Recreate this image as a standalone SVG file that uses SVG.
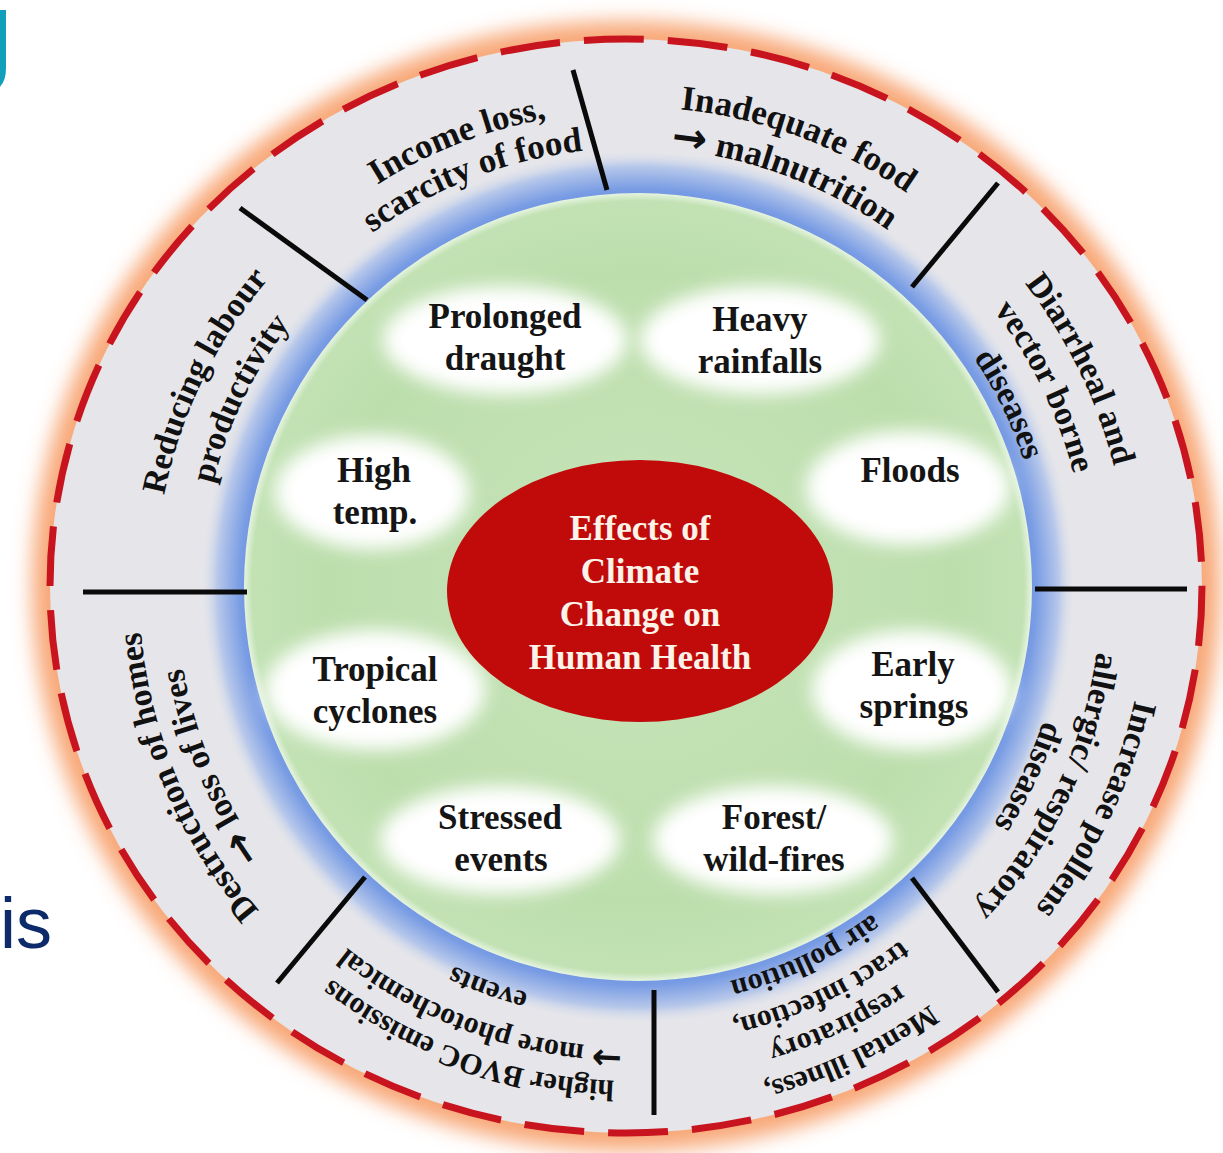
<svg xmlns="http://www.w3.org/2000/svg" width="1223" height="1153" viewBox="0 0 1223 1153">
<style>
.ot{font-family:"Liberation Serif","Times New Roman",serif;font-weight:bold;fill:#111;text-anchor:middle}
.ar{font-family:"DejaVu Sans",sans-serif;font-weight:bold;font-size:1.2em}
.it{font-family:"Liberation Serif","Times New Roman",serif;font-weight:bold;font-size:35px;fill:#151515;text-anchor:middle}
.ct{font-family:"Liberation Serif","Times New Roman",serif;font-weight:bold;font-size:35px;fill:#fbf2e8;text-anchor:middle}
.blob{fill:#ffffff;filter:url(#soft)}
.div{stroke:#0a0a0a;stroke-width:5;stroke-linecap:butt}
</style>
<defs>
<filter id="glow" x="-10%" y="-10%" width="120%" height="120%"><feGaussianBlur stdDeviation="10"/></filter>
<filter id="soft" x="-30%" y="-40%" width="160%" height="180%"><feGaussianBlur stdDeviation="9"/></filter>
<radialGradient id="blueRing" gradientUnits="userSpaceOnUse" cx="638" cy="587" r="438">
<stop offset="0.88" stop-color="#6a90e0"/>
<stop offset="0.91" stop-color="#7a9de4"/>
<stop offset="0.96" stop-color="#b6c7ea"/>
<stop offset="1" stop-color="#e6e6ea" stop-opacity="0"/>
</radialGradient>
<radialGradient id="greenFill" gradientUnits="userSpaceOnUse" cx="638" cy="587" r="394">
<stop offset="0" stop-color="#c8e5bb"/>
<stop offset="0.8" stop-color="#bcdeac"/>
<stop offset="0.98" stop-color="#c2e2b4"/>
<stop offset="1" stop-color="#e6f4e0"/>
</radialGradient>
<path id="r405" d="M -350.7 -202.5 A 405 405 0 0 1 350.7 -202.5"/>
<path id="r412" d="M -356.8 -206 A 412 412 0 0 1 356.8 -206"/>
<path id="r418" d="M -362 -209 A 418 418 0 0 1 362 -209"/>
<path id="r432" d="M -374.1 -216 A 432 432 0 0 1 374.1 -216"/>
<path id="r440" d="M -381 -220 A 440 440 0 0 1 381 -220"/>
<path id="r443" d="M -383.6 -221.5 A 443 443 0 0 1 383.6 -221.5"/>
<path id="r456" d="M -394.9 -228 A 456 456 0 0 1 394.9 -228"/>
<path id="r459" d="M -397.5 -229.5 A 459 459 0 0 1 397.5 -229.5"/>
<path id="r469" d="M -406.2 -234.5 A 469 469 0 0 1 406.2 -234.5"/>
<path id="r477" d="M -413.1 -238.5 A 477 477 0 0 1 413.1 -238.5"/>
<path id="r481" d="M -416.6 -240.5 A 481 481 0 0 1 416.6 -240.5"/>
<path id="r493" d="M -426.9 -246.5 A 493 493 0 0 1 426.9 -246.5"/>
<path id="r497" d="M -430.4 -248.5 A 497 497 0 0 1 430.4 -248.5"/>
<path id="r512" d="M -443.4 -256 A 512 512 0 0 1 443.4 -256"/>
<path id="r515" d="M -446 -257.5 A 515 515 0 0 1 446 -257.5"/>
</defs>
<rect width="1223" height="1153" fill="#ffffff"/>
<g id="slide-fragments">
<path d="M -20 10 H 6 V 68 Q 6 84 -4 90 H -20 Z" fill="#129fbb"/>
<text x="0" y="948" font-family="'Liberation Sans',Arial,sans-serif" font-size="72" fill="#0d2a6b">is</text>
</g>
<g id="rings">
<ellipse cx="626" cy="586" rx="594" ry="565" fill="#f8a878" filter="url(#glow)"/>
<ellipse cx="626" cy="586" rx="576" ry="547" fill="#e6e6ea"/>
<ellipse cx="626" cy="586" rx="576" ry="547" fill="none" stroke="#c8141e" stroke-width="7" stroke-dasharray="60 24"/>
<circle cx="638" cy="587" r="438" fill="url(#blueRing)"/>
<circle cx="638" cy="587" r="394" fill="url(#greenFill)"/>
</g>
<g id="dividers">
<line class="div" x1="83" y1="592" x2="247" y2="592"/>
<line class="div" x1="1035" y1="589" x2="1187" y2="589"/>
<line class="div" x1="573" y1="70" x2="607" y2="190"/>
<line class="div" x1="654" y1="990" x2="654" y2="1115"/>
<line class="div" x1="240" y1="208" x2="367" y2="300"/>
<line class="div" x1="998" y1="183" x2="912" y2="287"/>
<line class="div" x1="365" y1="877" x2="277" y2="983"/>
<line class="div" x1="912" y1="878" x2="998" y2="992"/>
</g>
<g id="outcome-income">
<text class="ot" font-size="35" transform="translate(632 588) rotate(-21.3)"><textPath href="#r477" startOffset="50%">Income loss,</textPath></text>
<text class="ot" font-size="35" transform="translate(632 588) rotate(-21.3)"><textPath href="#r440" startOffset="50%">scarcity of food</textPath></text>
</g>
<g id="outcome-malnutrition">
<text class="ot" font-size="35" transform="translate(632 588) rotate(20.3)"><textPath href="#r481" startOffset="50%">Inadequate food</textPath></text>
<text class="ot" font-size="35" transform="translate(632 588) rotate(20.3)"><textPath href="#r440" startOffset="50%"><tspan class="ar">→</tspan> malnutrition</textPath></text>
</g>
<g id="outcome-diarrheal">
<text class="ot" font-size="34" transform="translate(632 588) rotate(64)"><textPath href="#r497" startOffset="50%">Diarrheal and</textPath></text>
<text class="ot" font-size="34" transform="translate(632 588) rotate(64)"><textPath href="#r456" startOffset="50%">vector borne</textPath></text>
<text class="ot" font-size="34" transform="translate(632 588) rotate(64)"><textPath href="#r412" startOffset="50%">diseases</textPath></text>
</g>
<g id="outcome-allergic">
<text class="ot" font-size="34" transform="translate(632 588) rotate(115.5)"><textPath href="#r515" startOffset="50%">Increase pollens</textPath></text>
<text class="ot" font-size="34" transform="translate(632 588) rotate(115.5)"><textPath href="#r469" startOffset="50%">allergic/ respiratory</textPath></text>
<text class="ot" font-size="34" transform="translate(632 588) rotate(115.5)"><textPath href="#r432" startOffset="50%">diseases</textPath></text>
</g>
<g id="outcome-mental">
<text class="ot" font-size="30" transform="translate(632 588) rotate(154.8)"><textPath href="#r512" startOffset="50%">Mental illness,</textPath></text>
<text class="ot" font-size="30" transform="translate(632 588) rotate(154.8)"><textPath href="#r477" startOffset="50%">respiratory</textPath></text>
<text class="ot" font-size="30" transform="translate(632 588) rotate(154.8)"><textPath href="#r443" startOffset="50%">tract infection,</textPath></text>
<text class="ot" font-size="30" transform="translate(632 588) rotate(154.8)"><textPath href="#r405" startOffset="50%">air pollution</textPath></text>
</g>
<g id="outcome-bvoc">
<text class="ot" font-size="30" transform="translate(632 588) rotate(199.8)"><textPath href="#r493" startOffset="50%">higher BVOC emissions</textPath></text>
<text class="ot" font-size="30" transform="translate(632 588) rotate(199.8)"><textPath href="#r459" startOffset="50%"><tspan class="ar">→</tspan> more photochemical</textPath></text>
<text class="ot" font-size="30" transform="translate(632 588) rotate(199.8)"><textPath href="#r418" startOffset="50%">events</textPath></text>
</g>
<g id="outcome-destruction">
<text class="ot" font-size="34" transform="translate(632 588) rotate(247)"><textPath href="#r493" startOffset="50%">Destruction of homes</textPath></text>
<text class="ot" font-size="34" transform="translate(632 588) rotate(247)"><textPath href="#r456" startOffset="50%"><tspan class="ar">→</tspan> loss of lives</textPath></text>
</g>
<g id="outcome-labour">
<text class="ot" font-size="34" transform="translate(632 588) rotate(295.8)"><textPath href="#r477" startOffset="50%">Reducing labour</textPath></text>
<text class="ot" font-size="34" transform="translate(632 588) rotate(295.8)"><textPath href="#r432" startOffset="50%">productivity</textPath></text>
</g>
<g id="hazard-drought">
<ellipse class="blob" cx="505" cy="340" rx="122" ry="54"/>
<text class="it" x="505" y="328">Prolonged</text>
<text class="it" x="505" y="370">draught</text>
</g>
<g id="hazard-rainfall">
<ellipse class="blob" cx="760" cy="340" rx="120" ry="54"/>
<text class="it" x="760" y="331">Heavy</text>
<text class="it" x="760" y="373">rainfalls</text>
</g>
<g id="hazard-hightemp">
<ellipse class="blob" cx="372" cy="492" rx="97" ry="57"/>
<text class="it" x="374" y="482">High</text>
<text class="it" x="375" y="524">temp.</text>
</g>
<g id="hazard-floods">
<ellipse class="blob" cx="908" cy="488" rx="102" ry="57"/>
<text class="it" x="910" y="482">Floods</text>
</g>
<g id="hazard-cyclones">
<ellipse class="blob" cx="375" cy="690" rx="110" ry="60"/>
<text class="it" x="375" y="681">Tropical</text>
<text class="it" x="375" y="723">cyclones</text>
</g>
<g id="hazard-springs">
<ellipse class="blob" cx="912" cy="690" rx="100" ry="60"/>
<text class="it" x="913" y="676">Early</text>
<text class="it" x="914" y="718">springs</text>
</g>
<g id="hazard-stressed">
<ellipse class="blob" cx="500" cy="840" rx="120" ry="54"/>
<text class="it" x="500" y="829">Stressed</text>
<text class="it" x="501" y="871">events</text>
</g>
<g id="hazard-fires">
<ellipse class="blob" cx="773" cy="840" rx="120" ry="54"/>
<text class="it" x="774" y="829">Forest/</text>
<text class="it" x="774" y="871">wild-fires</text>
</g>
<g id="center">
<ellipse cx="640" cy="591" rx="193" ry="131" fill="#c10a0a"/>
<text class="ct" x="640" y="540">Effects of</text>
<text class="ct" x="640" y="583">Climate</text>
<text class="ct" x="640" y="626">Change on</text>
<text class="ct" x="640" y="669">Human Health</text>
</g>
</svg>
